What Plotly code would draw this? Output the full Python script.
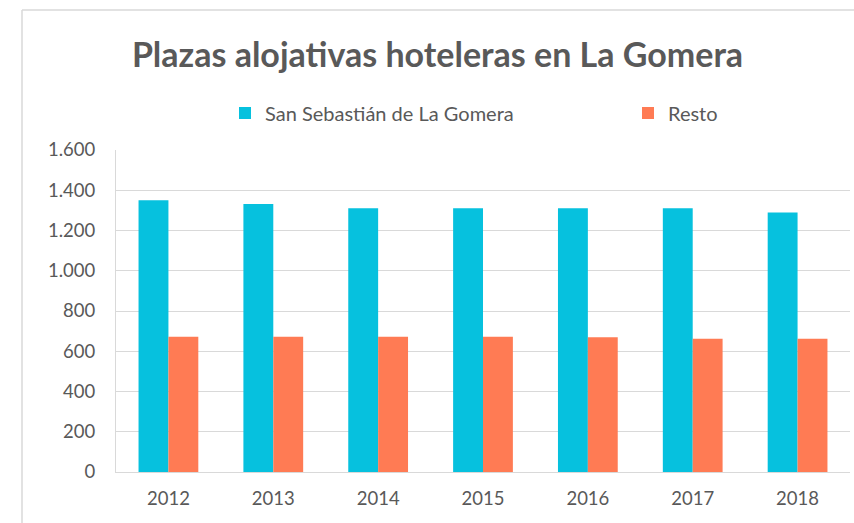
import plotly.graph_objects as go

years = ["2012", "2013", "2014", "2015", "2016", "2017", "2018"]
san_sebastian = [1350, 1332, 1310, 1310, 1310, 1310, 1290]
resto = [672, 672, 672, 672, 669, 662, 662]
y_ticks = [0, 200, 400, 600, 800, 1000, 1200, 1400, 1600]
y_tick_labels = ["0", "200", "400", "600", "800", "1.000", "1.200", "1.400", "1.600"]

W, H = 854, 523
L, R, T, B = 116, 4, 150, 51
pw, ph = W - L - R, H - T - B

def px(x):
    return (x - L) / pw

def py(y):
    return (H - B - y) / ph

txt = "#595959"
grid = "#d9d9d9"
font = "Lato"

fig = go.Figure()
fig.add_trace(go.Bar(name="San Sebastián de La Gomera", x=years, y=san_sebastian,
                     marker=dict(color="#06C1DE", line=dict(width=0)), legend="legend",
                     showlegend=True))
fig.add_trace(go.Bar(name="Resto", x=years, y=resto,
                     marker=dict(color="#FF7B54", line=dict(width=0)), legend="legend2",
                     showlegend=True))

leg_common = dict(orientation="h", yanchor="middle", y=py(113),
                  font=dict(size=20, color=txt, family=font), bgcolor="rgba(0,0,0,0)",
                  xanchor="left", visible=True)

fig.update_layout(
    width=W, height=H,
    showlegend=True,
    margin=dict(l=L, r=R, t=T, b=B, autoexpand=False),
    paper_bgcolor="white", plot_bgcolor="white",
    barmode="group", bargap=0.43, bargroupgap=0,
    font=dict(family=font, color=txt),
    title=dict(text="<b>Plazas alojativas hoteleras en La Gomera</b>",
               x=px(437.5), xref="paper", xanchor="center",
               y=1 - 55 / H, yref="container", yanchor="middle",
               font=dict(size=34, color=txt, family=font)),
    legend=dict(leg_common, x=px(225)),
    legend2=dict(leg_common, x=px(628)),
    xaxis=dict(showline=True, linecolor=grid, linewidth=1, ticks="", showgrid=False,
               tickfont=dict(size=18.5, color=txt), ticklabelstandoff=10, automargin=False),
    yaxis=dict(range=[0, 1600], tickvals=y_ticks, ticktext=y_tick_labels,
               showgrid=True, gridcolor=grid, gridwidth=1,
               showline=True, linecolor=grid, linewidth=1, ticks="",
               tickfont=dict(size=18.5, color=txt), ticklabelstandoff=16, zeroline=False,
               automargin=False),
    shapes=[
        dict(type="line", xref="paper", yref="paper", x0=px(22), x1=px(22),
             y0=py(10), y1=py(530), line=dict(color=grid, width=1.5)),
        dict(type="line", xref="paper", yref="paper", x0=px(22), x1=px(860),
             y0=py(10), y1=py(10), line=dict(color=grid, width=1.5)),
    ],
)

fig.write_html("out.html", config={"displayModeBar": False},
               post_script="document.body.style.margin='0px';document.body.style.padding='0px';document.body.style.overflow='hidden';")
